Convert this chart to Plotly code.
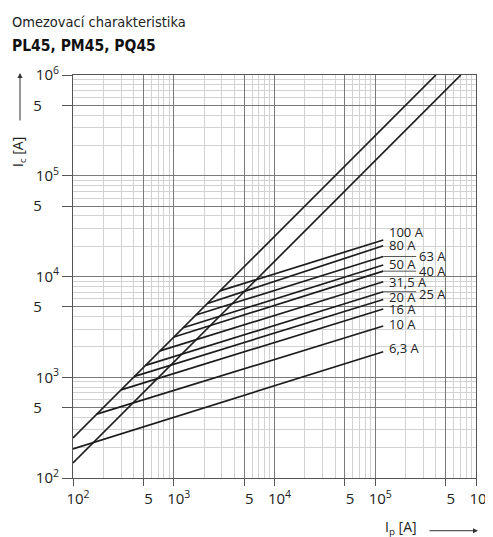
import math
import plotly.graph_objects as go

# ---- data ----
ratings = ["100 A", "80 A", "63 A", "50 A", "40 A", "31,5 A", "25 A", "20 A", "16 A", "10 A", "6,3 A"]
start_x = [2880, 2160, 1660, 1240, 1005, 730, 525, 408, 300, 172, 100]
start_y = [7200, 5400, 4150, 3100, 2510, 1825, 1310, 1020, 750, 430, 194]
end_x = [1.2e5] * 11
end_y = [23000, 20200, 15800, 13000, 11300, 8880, 7060, 5910, 4760, 3225, 1793]

# label anchor points (left edge, middle)
label_x = [1.31e5, 1.31e5, 2.58e5, 1.31e5, 2.58e5, 1.31e5, 2.58e5, 1.31e5, 1.31e5, 1.31e5, 1.31e5]
label_y = [27500, 20600, 16100, 13200, 11340, 8810, 6700, 6260, 4760, 3380, 1963]
# leader lines for the offset labels
leader_idx = [2, 4, 6]
leader_end_x = 2.55e5

# unlimited peak current lines
peak1_x = [100, 4.0e5]
peak1_y = [250, 1.0e6]
peak2_x = [100, 7.07e5]
peak2_y = [141, 1.0e6]

major_vals = [1e2, 5e2, 1e3, 5e3, 1e4, 5e4, 1e5, 5e5, 1e6]
x_ticktext = ["10<sup>2</sup>", "5", "10<sup>3</sup>", "5", "10<sup>4</sup>", "5",
              "10<sup>5</sup>", "5", "10<sup>6</sup>"]
y_ticktext = ["10<sup>2</sup>", "5\u2007\u2007", "10<sup>3</sup>", "5\u2007\u2007",
              "10<sup>4</sup>", "5\u2007\u2007", "10<sup>5</sup>", "5\u2007\u2007", "10<sup>6</sup>"]
minor_mult = [2, 3, 4, 6, 7, 8, 9]
minor_vals = [m * 10 ** e for e in range(2, 6) for m in minor_mult]

LINE = "#1c1c1c"
FONT = "Open Sans, Noto Sans, sans-serif"
NARROW = "DejaVu Sans Condensed, Liberation Sans Narrow, Open Sans, sans-serif"

fig = go.Figure()

fig.add_trace(go.Scatter(x=peak1_x, y=peak1_y, mode="lines",
                         line=dict(color=LINE, width=1.7), hoverinfo="skip"))
fig.add_trace(go.Scatter(x=peak2_x, y=peak2_y, mode="lines",
                         line=dict(color=LINE, width=1.7), hoverinfo="skip"))

for i, r in enumerate(ratings):
    fig.add_trace(go.Scatter(x=[start_x[i], end_x[i]], y=[start_y[i], end_y[i]],
                             mode="lines", line=dict(color=LINE, width=1.7),
                             name=r, hoverinfo="skip"))

for i in leader_idx:
    fig.add_trace(go.Scatter(x=[end_x[i], leader_end_x], y=[end_y[i], end_y[i]],
                             mode="lines", line=dict(color="#555", width=1),
                             hoverinfo="skip"))

annotations = []
for i, r in enumerate(ratings):
    annotations.append(dict(x=math.log10(label_x[i]), y=math.log10(label_y[i]),
                            xref="x", yref="y", text=r, showarrow=False,
                            xanchor="left", yanchor="middle",
                            font=dict(family=FONT, size=13, color="#222")))

# titles
annotations.append(dict(x=-0.156, y=1.132, xref="paper", yref="paper",
                        text="Omezovací charakteristika", showarrow=False,
                        xanchor="left", yanchor="middle",
                        font=dict(family=NARROW, size=14.5, color="#222")))
annotations.append(dict(x=-0.156, y=1.072, xref="paper", yref="paper",
                        text="<b>PL45, PM45, PQ45</b>", showarrow=False,
                        xanchor="left", yanchor="middle",
                        font=dict(family=NARROW, size=15.5, color="#111")))
# axis titles
annotations.append(dict(x=-0.134, y=0.809, xref="paper", yref="paper",
                        text="I<sub>c</sub> [A]", showarrow=False, textangle=-90,
                        xanchor="center", yanchor="middle",
                        font=dict(family=FONT, size=14, color="#222")))
annotations.append(dict(x=0.814, y=-0.124, xref="paper", yref="paper",
                        text="I<sub>p</sub> [A]", showarrow=False,
                        xanchor="center", yanchor="middle",
                        font=dict(family=FONT, size=14, color="#222")))
# arrows
annotations.append(dict(x=-0.1315, y=1.005, xref="paper", yref="paper",
                        text="", showarrow=True, ax=0, ay=49,
                        arrowhead=2, arrowsize=1, arrowwidth=1, arrowcolor="#333"))
annotations.append(dict(x=1.005, y=-0.1308, xref="paper", yref="paper",
                        text="", showarrow=True, ax=-50, ay=0,
                        arrowhead=2, arrowsize=1, arrowwidth=1, arrowcolor="#333"))

axis_common = dict(
    type="log", range=[2, 6], automargin=False,
    tickmode="array", tickvals=major_vals,
    ticks="outside", tickcolor="#555", tickwidth=1,
    showgrid=True, gridcolor="#7a7a7a", gridwidth=1,
    showline=True, linecolor="#555", linewidth=1, mirror=True,
    zeroline=False,
    minor=dict(tickmode="array", tickvals=minor_vals, showgrid=True,
               gridcolor="#d2d2d2", gridwidth=1, ticks=""),
    tickfont=dict(family=FONT, size=15, color="#222"),
)

# the page body has an 8 px margin, so the figure is sized to fit the window
fig.update_layout(
    width=485, height=529,
    margin=dict(l=65, r=17, t=67, b=59, autoexpand=False),
    plot_bgcolor="white", paper_bgcolor="white",
    showlegend=False,
    annotations=annotations,
    xaxis=dict(axis_common, ticktext=x_ticktext, ticklen=7, ticklabelshift=5),
    yaxis=dict(axis_common, ticktext=y_ticktext, ticklen=10),
)

fig.write_html("out.html")
